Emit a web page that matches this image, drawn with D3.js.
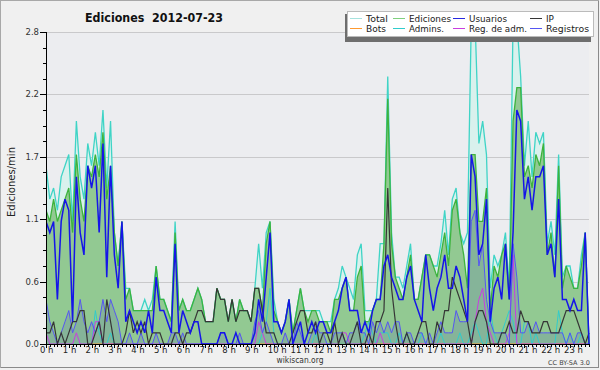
<!DOCTYPE html>
<html><head><meta charset="utf-8">
<script src="https://cdn.jsdelivr.net/npm/d3@7/dist/d3.min.js"></script>
<style>html,body{margin:0;padding:0;background:#f0f0f0}svg{display:block}</style>
</head><body><svg id="c" width="600" height="370"></svg>
<script>
// ---- data: one value per 10-minute slot (edits per minute), 0:00 .. 23:50 ----
const hourLabels = ["0 h","1 h","2 h","3 h","4 h","5 h","6 h","7 h","8 h","9 h","10 h","11 h",
  "12 h","13 h","14 h","15 h","16 h","17 h","18 h","19 h","20 h","21 h","22 h","23 h"];
const yTickValues = [0, 0.56, 1.12, 1.68, 2.24, 2.8];

const total = [
 1.6,1.3,1.4,1.2,1.5,1.6, 1.7,1.1,2.0,1.5,1.3,1.8, 1.6,1.9,1.6,2.1,1.4,2.0, 1.0,0.7,1.1,0.5,0.5,0.3,
 0.3,0.3,0.4,0.3,0.4,0.7, 0.4,0.4,0.3,0.2,1.1,0.3, 0.4,0.3,0.3,0.4,0.5,0.4, 0.2,0.2,0.2,0.5,0.4,0.4,
 0.2,0.4,0.2,0.4,0.3,0.3, 0.2,0.5,0.9,0.5,1.0,1.1, 0.4,0.2,0.1,0.2,0.4,0.1, 0.3,0.5,0.3,0.3,0.3,0.3,
 0.3,0.2,0.2,0.2,0.4,0.5, 0.7,0.6,0.5,0.4,0.8,0.9, 0.3,0.3,0.3,0.4,0.9,0.9, 2.4,1.0,0.6,0.6,0.5,0.7,
 0.9,0.4,0.4,0.6,0.8,0.8, 0.7,0.7,0.9,1.2,0.8,1.3, 1.4,1.0,0.9,1.0,2.9,2.9, 1.8,2.0,1.7,0.5,0.8,0.7,
 0.8,1.0,0.5,2.9,2.9,2.4, 1.6,2.0,1.5,1.9,1.8,1.9, 0.9,1.1,0.8,1.7,0.6,0.7, 0.7,0.5,0.5,0.8,1.0,0.0];
const ediciones = [
 1.2,1.1,1.3,1.1,1.2,1.3, 1.4,1.0,1.7,1.3,1.1,1.6, 1.5,1.7,1.5,1.9,1.3,1.6, 1.0,0.7,1.1,0.4,0.5,0.3,
 0.3,0.3,0.3,0.3,0.3,0.7, 0.4,0.4,0.3,0.2,1.0,0.3, 0.4,0.3,0.3,0.4,0.5,0.4, 0.2,0.2,0.2,0.5,0.4,0.4,
 0.2,0.4,0.2,0.4,0.3,0.3, 0.2,0.5,0.5,0.3,0.9,1.1, 0.3,0.2,0.1,0.2,0.4,0.1, 0.3,0.5,0.3,0.2,0.3,0.3,
 0.2,0.2,0.2,0.1,0.4,0.4, 0.5,0.6,0.3,0.3,0.6,0.7, 0.2,0.2,0.3,0.4,0.4,0.9, 2.2,0.9,0.6,0.5,0.4,0.6,
 0.8,0.4,0.4,0.6,0.8,0.8, 0.7,0.6,0.8,1.0,0.7,1.2, 1.3,1.0,0.8,0.5,1.7,1.7, 1.1,1.1,1.4,0.3,0.7,0.6,
 0.8,0.9,0.4,2.0,2.3,2.3, 1.5,1.6,1.4,1.7,1.6,1.8, 0.8,1.0,0.6,1.6,0.5,0.7, 0.6,0.5,0.5,0.7,1.0,0.0];
const usuarios = [
 1.1,1.0,1.1,0.4,1.1,1.3, 1.2,0.2,1.5,1.0,0.8,1.6, 1.4,1.6,1.0,1.8,0.6,1.6, 0.8,0.5,1.1,0.2,0.3,0.2,
 0.1,0.2,0.1,0.3,0.1,0.6, 0.3,0.3,0.2,0.1,0.9,0.1, 0.3,0.2,0.1,0.2,0.2,0.0, 0.0,0.0,0.0,0.0,0.1,0.1,
 0.0,0.0,0.1,0.0,0.0,0.0, 0.0,0.1,0.4,0.2,0.6,1.0, 0.2,0.2,0.1,0.2,0.4,0.0, 0.1,0.2,0.0,0.1,0.2,0.1,
 0.2,0.2,0.1,0.1,0.2,0.3, 0.5,0.6,0.3,0.3,0.3,0.1, 0.2,0.1,0.3,0.4,0.4,0.7, 0.8,0.6,0.5,0.4,0.4,0.6,
 0.7,0.4,0.3,0.2,0.8,0.5, 0.3,0.5,0.6,0.8,0.5,0.5, 0.7,0.6,0.4,0.2,1.7,1.5, 0.8,0.9,1.3,0.2,0.5,0.6,
 0.4,0.9,0.4,1.0,2.1,2.0, 1.3,1.5,1.2,1.5,1.5,1.6, 0.8,0.9,0.6,1.3,0.4,0.4, 0.3,0.4,0.3,0.3,1.0,0.0];
const ip = [
 0.1,0.1,0.2,0.0,0.1,0.0, 0.1,0.2,0.2,0.3,0.3,0.0, 0.0,0.1,0.2,0.0,0.4,0.2, 0.0,0.0,0.0,0.1,0.3,0.1,
 0.2,0.1,0.2,0.0,0.1,0.1, 0.1,0.0,0.0,0.0,0.1,0.1, 0.0,0.1,0.1,0.2,0.3,0.3, 0.2,0.2,0.2,0.5,0.4,0.4,
 0.2,0.4,0.2,0.3,0.3,0.3, 0.2,0.5,0.5,0.3,0.1,0.1, 0.1,0.0,0.0,0.0,0.0,0.1, 0.2,0.3,0.3,0.1,0.1,0.2,
 0.0,0.1,0.1,0.0,0.2,0.0, 0.1,0.0,0.0,0.1,0.2,0.0, 0.0,0.1,0.0,0.2,0.2,0.3, 1.4,0.5,0.2,0.0,0.0,0.1,
 0.0,0.0,0.1,0.2,0.2,0.0, 0.0,0.2,0.1,0.3,0.3,0.6, 0.5,0.4,0.3,0.2,0.0,0.2, 0.3,0.3,0.2,0.0,0.0,0.0,
 0.1,0.1,0.2,0.1,0.1,0.3, 0.2,0.2,0.1,0.1,0.1,0.2, 0.2,0.1,0.1,0.1,0.2,0.3, 0.3,0.3,0.2,0.1,0.0,0.1];
const registros = [
 0.4,0.2,0.1,0.0,0.1,0.2, 0.3,0.1,0.2,0.4,0.2,0.1, 0.2,0.1,0.2,0.4,0.2,0.4, 0.3,0.2,0.0,0.0,0.1,0.0,
 0.0,0.1,0.0,0.0,0.0,0.1, 0.0,0.0,0.0,0.1,0.1,0.0, 0.1,0.0,0.0,0.0,0.0,0.0, 0.0,0.0,0.0,0.0,0.1,0.1,
 0.0,0.0,0.0,0.1,0.0,0.0, 0.0,0.2,0.3,0.1,0.2,0.1, 0.0,0.0,0.0,0.1,0.0,0.0, 0.2,0.1,0.0,0.0,0.1,0.2,
 0.1,0.1,0.0,0.0,0.1,0.1, 0.1,0.0,0.1,0.1,0.2,0.1, 0.1,0.0,0.2,0.1,0.2,0.1, 0.2,0.1,0.2,0.2,0.0,0.1,
 0.1,0.0,0.1,0.1,0.0,0.1, 0.0,0.1,0.2,0.1,0.1,0.1, 0.3,0.2,0.2,0.2,1.1,1.2, 0.7,0.9,0.4,0.2,0.1,0.1,
 0.1,0.1,0.0,0.9,0.6,0.1, 0.1,0.2,0.1,0.2,0.1,0.1, 0.1,0.1,0.1,0.1,0.1,0.0, 0.1,0.0,0.1,0.1,0.0,0.0];
const admins = [
 0,0,0,0,0,0, 0,0,0,0,0,0, 0,0.3,0.1,0,0,0.1, 0,0,0,0,0,0,
 0,0,0,0,0,0, 0,0,0,0,0,0, 0,0,0,0,0,0, 0,0,0,0,0,0,
 0,0,0,0,0,0, 0,0,0,0.1,0.2,0.5, 0.1,0,0,0,0,0, 0,0,0,0,0,0.1,
 0,0,0,0,0,0, 0,0,0,0,0,0, 0.1,0.2,0.1,0,0.1,0.1, 0.1,0,0,0.1,0,0.1,
 0,0,0,0.1,0,0, 0,0,0.1,0,0,0, 0,0.1,0,0,0.1,0.2, 0.1,0,0,0.3,0.1,0,
 0.1,0.2,0.3,0.2,0,0, 0.2,0.2,0,0.1,0,0, 0,0,0,0.3,0.1,0, 0.1,0,0,0.1,0,0];
const regAdm = [
 0.1,0,0,0,0,0, 0,0,0.1,0,0,0, 0,0.2,0.2,0,0,0, 0,0,0,0,0,0,
 0,0,0,0,0,0, 0,0,0,0,0,0, 0,0,0,0,0,0, 0,0,0,0,0,0,
 0,0,0,0,0,0, 0,0,0.2,0.1,0,0, 0,0,0,0,0,0, 0,0,0,0,0,0,
 0,0,0,0,0,0, 0.1,0.1,0,0,0,0, 0,0,0,0,0.1,0, 0,0,0,0,0,0,
 0,0,0,0,0,0, 0,0,0,0,0,0, 0,0,0,0,0,0.2, 0.4,0.5,0.2,0.1,0,0,
 0,0,0.1,0.8,0,0, 0,0,0,0,0,0, 0,0,0,0,0,0, 0,0,0,0,0,0];
const bots = [
 0,0,0,0,0,0, 0,0,0,0,0,0, 0,0,0,0,0,0, 0,0,0,0,0,0,
 0,0,0,0,0,0, 0,0,0,0,0,0, 0,0,0,0,0,0, 0,0,0,0,0,0,
 0,0,0,0,0,0, 0,0,0,0,0,0, 0,0,0,0,0,0, 0,0,0,0,0,0,
 0,0,0,0,0,0, 0,0,0,0,0,0, 0,0,0,0,0,0, 0,0,0,0,0,0,
 0,0,0,0,0,0, 0,0,0,0,0,0, 0,0,0,0,0,0, 0,0,0,0,0,0,
 0,0,0,0,0,0, 0,0,0,0,0,0, 0,0,0,0,0,0, 0,0,0,0,0,0];

// ---- styling (separate from data) ----
const FONT = "'DejaVu Sans', sans-serif";
const series = [
  {name:"Total", data: total, color:"#3fd4c6", legendColor:"#a6e2de", w:1.3},
  {name:"Ediciones", data: ediciones, color:"#3db33d", legendColor:"#7fd07f", w:1.3},
  {name:"Usuarios", data: usuarios, color:"#1515e8", legendColor:"#2828e0", w:1.5},
  {name:"IP", data: ip, color:"#363636", legendColor:"#363636", w:1.2},
  {name:"Bots", data: bots, color:"#ff9a30", legendColor:"#ff9a30", w:1},
  {name:"Admins.", data: admins, color:"#30cccc", legendColor:"#30cccc", w:1},
  {name:"Reg. de adm.", data: regAdm, color:"#c83ee0", legendColor:"#c83ee0", w:1},
  {name:"Registros", data: registros, color:"#5656f2", legendColor:"#5656f2", w:1}
];
const byName = Object.fromEntries(series.map(s => [s.name, s]));

const svg = d3.select("#c");
const L = 46, R = 589, T = 32, B = 344;
const x = d3.scaleLinear().domain([0, 143]).range([L, R]);     // 10-minute slot index
const y = d3.scaleLinear().domain([0, 2.8]).range([B, T]);

// background + frame
svg.append("rect").attr("x",0).attr("y",0).attr("width",600).attr("height",370).attr("fill","#f0f0f0");
svg.append("rect").attr("x",0.5).attr("y",0.5).attr("width",598).attr("height",367)
  .attr("fill","none").attr("stroke","#a8a8a8");
svg.append("line").attr("x1",598.5).attr("x2",598.5).attr("y1",1).attr("y2",368).attr("stroke","#8a8a8a");
svg.append("line").attr("x1",1).attr("x2",599).attr("y1",367.5).attr("y2",367.5).attr("stroke","#8a8a8a");
svg.append("rect").attr("x",L).attr("y",T).attr("width",R-L).attr("height",B-T).attr("fill","#ecedf0");

// grid
svg.append("g").selectAll("line").data(yTickValues.slice(1)).join("line")
  .attr("x1",L).attr("x2",R)
  .attr("y1",d=>Math.round(y(d))+0.5).attr("y2",d=>Math.round(y(d))+0.5)
  .attr("stroke","#c9c9cb").attr("stroke-width",1);

svg.append("defs").append("clipPath").attr("id","clip")
  .append("rect").attr("x",L).attr("y",T).attr("width",R-L+1).attr("height",B-T);
const plot = svg.append("g").attr("clip-path","url(#clip)");

const area = d3.area().x((d,i)=>x(i)).y0(B).y1(d=>y(d));
const line = d3.line().x((d,i)=>x(i)).y(d=>y(d));

plot.append("path").datum(total).attr("d",area).attr("fill","#d9f1ed");
plot.append("path").datum(ediciones).attr("d",area).attr("fill","#92c992");
plot.append("path").datum(registros).attr("d",area).attr("fill","rgba(60,60,200,0.14)");

const drawOrder = ["Total","Ediciones","Bots","Admins.","Reg. de adm.","Registros","IP","Usuarios"];
drawOrder.forEach(n => {
  const s = byName[n];
  plot.append("path").datum(s.data).attr("d",line).attr("fill","none")
    .attr("stroke",s.color).attr("stroke-width",s.w).attr("stroke-linejoin","miter");
});

// y axis
const gy = svg.append("g");
gy.append("line").attr("x1",L+0.5).attr("x2",L+0.5).attr("y1",T).attr("y2",B+1).attr("stroke","#000");
const minor = d3.range(0, 2.8001, 0.14);
gy.selectAll("line.mn").data(minor).join("line").attr("class","mn")
  .attr("x1",L-3).attr("x2",L).attr("y1",d=>Math.round(y(d))+0.5).attr("y2",d=>Math.round(y(d))+0.5)
  .attr("stroke","#000");
gy.selectAll("line.mj").data(yTickValues).join("line").attr("class","mj")
  .attr("x1",L-6).attr("x2",L).attr("y1",d=>Math.round(y(d))+0.5).attr("y2",d=>Math.round(y(d))+0.5)
  .attr("stroke","#000");
gy.selectAll("text").data(yTickValues).join("text")
  .attr("x",L-7).attr("y",d=>y(d)+3).attr("text-anchor","end")
  .attr("font-family",FONT).attr("font-size",8.5).attr("fill","#333")
  .text(d=>d3.format(".1f")(d));

// x axis
const gx = svg.append("g");
gx.append("line").attr("x1",L).attr("x2",R+1).attr("y1",B+0.5).attr("y2",B+0.5).attr("stroke","#000");
gx.selectAll("line.t").data(d3.range(0,144)).join("line").attr("class","t")
  .attr("x1",d=>Math.round(x(d))+0.5).attr("x2",d=>Math.round(x(d))+0.5)
  .attr("y1",B).attr("y2",d=> d%6===0 ? B+4 : B+3).attr("stroke","#000");
gx.selectAll("text").data(hourLabels).join("text")
  .attr("x",(d,i)=>x(i*6)-6).attr("y",B+9)
  .attr("font-family",FONT).attr("font-size",8.5).attr("fill","#222")
  .text(d=>d);

// titles
svg.append("text").attr("x",154).attr("y",22).attr("text-anchor","middle")
  .attr("font-family",FONT).attr("font-weight","bold").attr("font-size",13)
  .attr("textLength",138).attr("lengthAdjust","spacingAndGlyphs").attr("fill","#111")
  .attr("xml:space","preserve").style("white-space","pre")
  .text("Ediciones  2012-07-23");
svg.append("text").attr("transform","translate(15,182) rotate(-90)").attr("text-anchor","middle")
  .attr("font-family",FONT).attr("font-size",10.5).attr("fill","#222")
  .attr("textLength",70).attr("lengthAdjust","spacingAndGlyphs")
  .text("Ediciones/min");
svg.append("text").attr("x",300).attr("y",363).attr("text-anchor","middle")
  .attr("font-family",FONT).attr("font-size",8.5).attr("fill","#333")
  .attr("textLength",47).attr("lengthAdjust","spacingAndGlyphs").text("wikiscan.org");
svg.append("text").attr("x",590).attr("y",365).attr("text-anchor","end")
  .attr("font-family",FONT).attr("font-size",6.5).attr("fill","#444")
  .attr("textLength",42).attr("lengthAdjust","spacingAndGlyphs").text("CC BY-SA 3.0");

// legend
const lg = svg.append("g");
lg.append("rect").attr("x",345).attr("y",14).attr("width",246).attr("height",28).attr("fill","#6e6e6e");
lg.append("rect").attr("x",347.5).attr("y",11.5).attr("width",246).attr("height",25)
  .attr("fill","#fff").attr("stroke","#bbb");
const legendOrder = ["Total","Ediciones","Usuarios","IP","Bots","Admins.","Reg. de adm.","Registros"];
const colX = [350, 393, 453, 530];
const textW = {"Total":22,"Ediciones":42,"Usuarios":38,"IP":8,"Bots":20,"Admins.":35,"Reg. de adm.":58,"Registros":43};
legendOrder.forEach((n,k) => {
  const s = byName[n], c = k % 4, r = Math.floor(k / 4);
  const yy = 18.5 + r * 10;
  lg.append("line").attr("x1",colX[c]).attr("x2",colX[c]+12).attr("y1",yy).attr("y2",yy)
    .attr("stroke",s.legendColor).attr("stroke-width",1);
  lg.append("text").attr("x",colX[c]+16).attr("y",yy+3.2)
    .attr("font-family",FONT).attr("font-size",8.5).attr("fill","#222")
    .attr("textLength",textW[n]).attr("lengthAdjust","spacingAndGlyphs").text(n);
});
</script></body></html>
